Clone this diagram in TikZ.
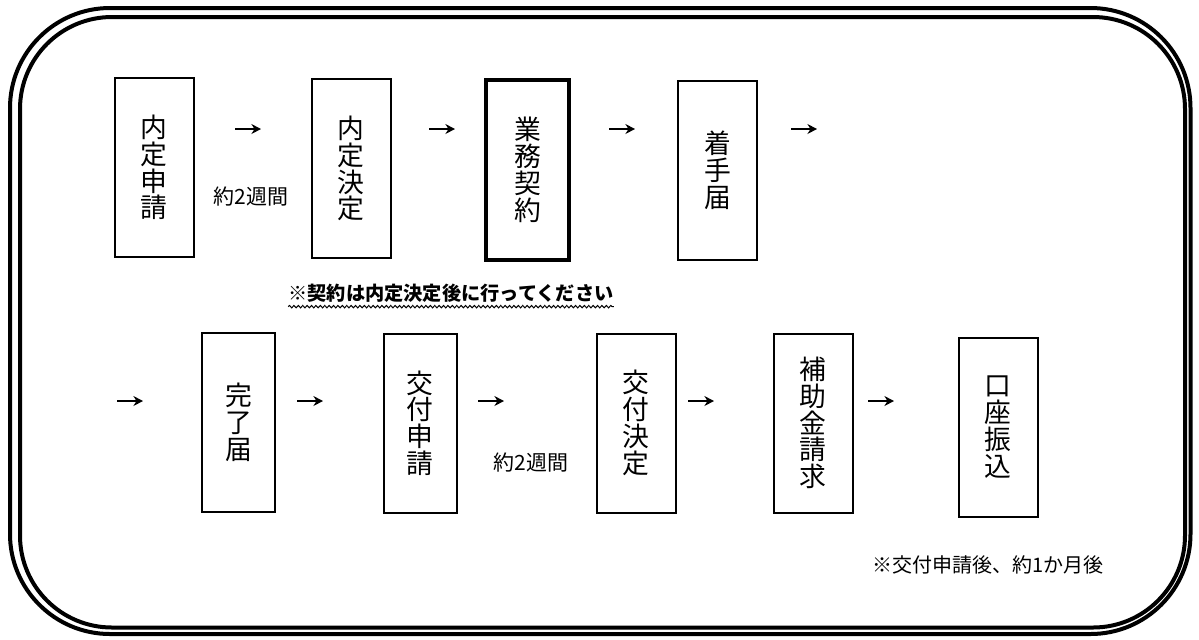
\documentclass[tikz,border=0pt]{standalone}
\usepackage{fontspec}
\setmainfont{Noto Sans CJK JP}
\usetikzlibrary{arrows.meta,decorations.pathmorphing}

\tikzset{
    stepbox/.style={draw, line width=1pt, minimum width=39.5pt, minimum height=89.5pt,
        inner sep=0pt, align=center, font=\fontsize{13.4}{13.4}\selectfont},
    narrowbox/.style={stepbox, minimum width=36.5pt},
    flow/.style={-{Stealth[length=4.8pt,width=5pt]}, line width=1.4pt},
    period/.style={font=\fontsize{10.5}{12}\selectfont, inner sep=0pt},
}

\begin{document}
\begin{tikzpicture}[x=0.5pt, y=-0.5pt]     % one unit = one pixel of the 1199x639 picture, y runs down

    \useasboundingbox (0,0) rectangle (1199,639);

    \def\alen{26}           % length of every small arrow
    \def\rowa{129}          % height of the arrows in the first row
    \def\rowb{401}          % height of the arrows in the second row

    % Double frame with round corners
    \draw[line width=2pt, rounded corners=50pt] (10,8) rectangle (1190.5,634);
    \draw[line width=2pt, rounded corners=46pt] (20,17) rectangle (1185,627.5);

    % First row
    \node[stepbox] (naiteiShinsei) at (154,167.5) {内\\定\\申\\請};
    \node[stepbox] (naiteiKettei)  at (351,168.5) {内\\定\\決\\定};
    \node[stepbox, line width=2.3pt, minimum width=41.5pt, minimum height=90pt]
                   (keiyaku)       at (527.5,170) {業\\務\\契\\約};
    \node[stepbox] (chakushu)      at (717.5,170) {着\\手\\届};

    % Second row
    \node[narrowbox] (kanryo)        at (238.5,422) {完\\了\\届};
    \node[narrowbox] (kofuShinsei)   at (420,423)   {交\\付\\申\\請};
    \node[stepbox]   (kofuKettei)    at (636,423)   {交\\付\\決\\定};
    \node[stepbox]   (seikyu)        at (813,423)   {補\\助\\金\\請\\求};
    \node[stepbox]   (furikomi)      at (998,427)   {口\\座\\振\\込};

    % Waiting times and notes
    \node[period] (waitA) at (251,197) {約2週間};
    \node[period] (waitB) at (531,463) {約2週間};
    \node[period, font=\fontsize{9.6}{12}\selectfont\bfseries] (contractNote) at (451,293)
        {※契約は内定決定後に行ってください};
    \draw[line width=0.5pt, decorate, decoration={snake, amplitude=0.6pt, segment length=2.2pt}]
        ([yshift=-2pt]contractNote.south west) -- ([yshift=-2pt]contractNote.south east);
    \node[period, font=\fontsize{10}{12}\selectfont] (paymentNote) at (988,565) {※交付申請後、約1か月後};

    % Start points of the small arrows
    \coordinate (arrA) at (235,\rowa);
    \coordinate (arrB) at (429,\rowa);
    \coordinate (arrC) at (609,\rowa);
    \coordinate (arrD) at (791,\rowa);
    \coordinate (arrE) at (117,\rowb);
    \coordinate (arrF) at (297,\rowb);
    \coordinate (arrG) at (478,\rowb);
    \coordinate (arrH) at (688,\rowb);
    \coordinate (arrI) at (868,\rowb);

    \foreach \a in {arrA,arrB,arrC,arrD,arrE,arrF,arrG,arrH,arrI}
        \draw[flow] (\a) -- ++(\alen,0);

\end{tikzpicture}
\end{document}
